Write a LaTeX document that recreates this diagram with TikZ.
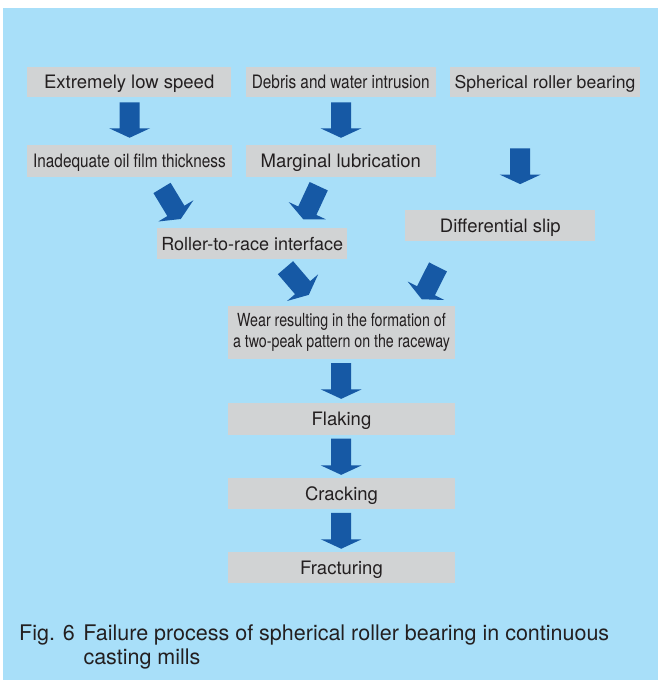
\documentclass[tikz,border=0pt]{standalone}
\usepackage{fontspec}
\setmainfont{TeX Gyre Heros}
\newfontfamily\condA{TeX Gyre Heros}[FakeStretch=0.83]
\newfontfamily\condB{TeX Gyre Heros}[FakeStretch=0.79]
\usetikzlibrary{calc}
\definecolor{bgblue}{RGB}{168,223,249}
\definecolor{boxgray}{RGB}{209,211,212}
\definecolor{arrowblue}{RGB}{22,89,165}
\definecolor{txt}{RGB}{35,31,32}
\tikzset{
  box/.style={fill=boxgray, inner sep=0pt, text=txt, font=\fontsize{18.5}{21}\selectfont},
  capc/.style={text height=13.3pt, text depth=0pt},
  blk/.style={fill=arrowblue, draw=none, to path={
    ($(\tikztostart)!10pt!90:(\tikztotarget)$)
    -- ($(\tikztotarget)!9.5pt!(\tikztostart)!10pt!-90:(\tikztostart)$)
    -- ($(\tikztotarget)!9.5pt!(\tikztostart)!20.5pt!-90:(\tikztostart)$)
    -- (\tikztotarget)
    -- ($(\tikztotarget)!9.5pt!(\tikztostart)!20.5pt!90:(\tikztostart)$)
    -- ($(\tikztotarget)!9.5pt!(\tikztostart)!10pt!90:(\tikztostart)$)
    -- ($(\tikztostart)!10pt!-90:(\tikztotarget)$)
    -- cycle}}
}
\begin{document}
\begin{tikzpicture}[x=1pt,y=-1pt]
\useasboundingbox (0,0) rectangle (658,680);
\fill[bgblue] (3,8) rectangle (658,680);

\node[box,capc,minimum width=203.7pt,minimum height=29.7pt] (b1) at (129.2,82.2) {Extremely low speed};
\node[box,capc,minimum width=189.7pt,minimum height=29.7pt] (b2) at (340.8,82.2) {\condA Debris and water intrusion};
\node[box,capc,minimum width=189.4pt,minimum height=29.7pt,font=\fontsize{17.6}{21}\selectfont] (b3) at (545,82.2) {Spherical roller bearing};
\node[box,capc,minimum width=204.4pt,minimum height=31.7pt] (b4) at (129.5,160.8) {\condA Inadequate oil film thickness};
\node[box,capc,minimum width=189.7pt,minimum height=32pt] (b5) at (340.8,161) {Marginal lubrication};
\node[box,capc,minimum width=189.7pt,minimum height=31pt,font=\fontsize{18}{21}\selectfont] (b6) at (252.2,243.8) {Roller-to-race interface};
\node[box,capc,minimum width=190pt,minimum height=31pt] (b7) at (500.3,225.5) {Differential slip};
\node[box,minimum width=227pt,minimum height=53.3pt,align=center,font=\fontsize{18}{21}\selectfont\condB] (b8) at (341.5,332.5) {Wear resulting in the formation of\\a two-peak pattern on the raceway};
\node[box,capc,minimum width=227pt,minimum height=31.7pt] (b9) at (341.5,419.2) {Flaking};
\node[box,capc,minimum width=227pt,minimum height=30.7pt] (b10) at (341.5,493.7) {Cracking};
\node[box,capc,minimum width=227pt,minimum height=31.7pt] (b11) at (341.5,567.5) {Fracturing};

\path[blk] ([shift={(0.4,5)}]b1.south) to ([shift={(0.1,-7)}]b4.north);
\path[blk] ([shift={(0.2,5)}]b2.south) to ([shift={(0.2,-7)}]b5.north);
\path[blk] ([shift={(-24.8,51)}]b3.south) to ([shift={(19.9,-25.7)}]b7.north);
\path[blk] ([shift={(32.5,11.1)}]b4.south) to ([shift={(-71.4,-9.1)}]b6.north);
\path[blk] ([shift={(-22.1,9)}]b5.south) to ([shift={(51.1,-8.8)}]b6.north);
\path[blk] ([shift={(33.3,8.2)}]b6.south) to ([shift={(-32.7,-10.8)}]b8.north);
\path[blk] ([shift={(-62.3,25.7)}]b7.south) to ([shift={(80.2,-6.4)}]b8.north);
\path[blk] ([shift={(-0.3,3.7)}]b8.south) to ([shift={(-0.3,-4.3)}]b9.north);
\path[blk] ([shift={(-0.3,3.3)}]b9.south) to ([shift={(-0.3,-3.3)}]b10.north);
\path[blk] ([shift={(-0.3,3.7)}]b10.south) to ([shift={(-0.3,-2.7)}]b11.north);

\node[anchor=base west,inner sep=0pt,text=txt,font=\fontsize{21.5}{24}\selectfont] (cap) at (19,640)
  {\begin{tabular}[t]{@{}p{64.3pt}@{}l@{}}Fig. 6 & Failure process of spherical roller bearing in continuous\\ & casting mills\end{tabular}};
\end{tikzpicture}
\end{document}
